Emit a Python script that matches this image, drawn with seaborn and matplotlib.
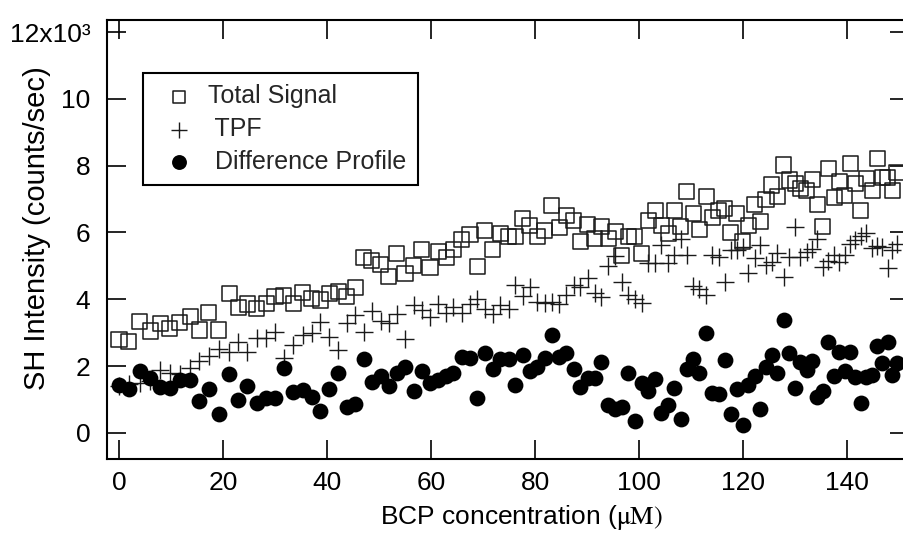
import matplotlib
matplotlib.use("Agg")
import matplotlib.pyplot as plt
import seaborn as sns
from matplotlib.ticker import FixedLocator, FuncFormatter

# BCP concentration (uM)
conc = [0.0, 1.9, 4.0, 6.0, 7.9, 9.8, 11.7, 13.7, 15.4, 17.3,
        19.2, 21.2, 22.9, 24.7, 26.5, 28.3, 30.0, 31.7, 33.5, 35.3,
        37.1, 38.7, 40.4, 42.2, 43.8, 45.4, 47.1, 48.6, 50.3, 51.9,
        53.4, 55.0, 56.7, 58.2, 59.8, 61.4, 62.9, 64.3, 65.9, 67.5,
        68.9, 70.3, 71.9, 73.3, 74.9, 76.2, 77.6, 79.0, 80.4, 81.9,
        83.2, 84.7, 86.0, 87.4, 88.7, 90.1, 91.5, 92.7, 94.1, 95.4,
        96.7, 97.9, 99.2, 100.5, 101.8, 103.1, 104.3, 105.6, 106.8, 108.0,
        109.2, 110.4, 111.6, 112.9, 114.1, 115.3, 116.5, 117.6, 118.8, 119.9,
        121.0, 122.2, 123.3, 124.4, 125.5, 126.6, 127.8, 128.9, 130.0, 131.0,
        132.2, 133.3, 134.3, 135.3, 136.4, 137.5, 138.5, 139.5, 140.6, 141.6,
        142.6, 143.7, 144.8, 145.8, 146.8, 147.8, 148.7, 149.6]

# SH intensity, x10^3 counts/sec
total_signal = [2.81, 2.73, 3.33, 3.05, 3.28, 3.13, 3.30, 3.48, 3.08, 3.61,
                3.08, 4.18, 3.76, 3.86, 3.73, 3.88, 4.08, 4.12, 3.88, 4.20,
                4.03, 3.98, 4.18, 4.23, 4.08, 4.36, 5.26, 5.15, 5.03, 4.68,
                5.36, 4.78, 5.00, 5.50, 4.96, 5.43, 5.26, 5.50, 5.78, 5.95,
                4.98, 6.07, 5.48, 5.98, 5.89, 5.89, 6.42, 6.22, 5.87, 6.07,
                6.82, 6.15, 6.52, 6.35, 5.72, 6.25, 5.83, 6.17, 5.83, 6.02,
                5.30, 5.89, 5.89, 5.38, 6.35, 6.67, 6.22, 5.98, 6.65, 6.17,
                7.22, 6.57, 6.09, 7.09, 6.45, 6.67, 6.72, 5.99, 6.57, 5.72,
                6.22, 6.85, 6.32, 6.99, 7.42, 7.09, 8.02, 7.57, 7.47, 7.32,
                7.27, 7.59, 6.85, 6.19, 7.92, 7.05, 7.52, 7.12, 8.07, 7.47,
                6.67, 7.62, 7.27, 8.22, 7.65, 7.65, 7.27, 7.79]

tpf = [1.40, 1.45, 1.50, 1.55, 1.89, 1.80, 1.77, 1.93, 2.16, 2.30,
       2.50, 2.43, 2.73, 2.43, 2.83, 2.83, 3.03, 2.23, 2.63, 2.93,
       2.98, 3.33, 2.88, 2.48, 3.30, 3.53, 3.03, 3.66, 3.36, 3.30,
       3.56, 2.80, 3.83, 3.68, 3.48, 3.86, 3.60, 3.76, 3.60, 3.86,
       4.00, 3.70, 3.56, 3.83, 3.70, 4.43, 4.10, 4.38, 3.93, 3.90,
       3.93, 3.86, 4.13, 4.43, 4.36, 4.63, 4.20, 4.06, 5.00, 5.30,
       4.53, 4.13, 4.00, 3.90, 5.10, 5.08, 5.63, 5.08, 5.33, 5.80,
       5.33, 4.40, 4.30, 4.13, 5.33, 5.26, 4.53, 5.48, 5.48, 5.56,
       4.80, 5.23, 5.63, 5.03, 5.13, 5.38, 4.66, 5.26, 6.17, 5.26,
       5.43, 5.50, 5.80, 4.98, 5.16, 5.33, 5.13, 5.33, 5.66, 5.78,
       5.88, 5.99, 5.53, 5.60, 5.56, 4.93, 5.48, 5.66]

difference = [1.42, 1.32, 1.86, 1.64, 1.39, 1.34, 1.57, 1.59, 0.97, 1.32,
              0.57, 1.76, 0.99, 1.41, 0.89, 1.04, 1.04, 1.94, 1.24, 1.29,
              1.09, 0.67, 1.31, 1.79, 0.77, 0.87, 2.20, 1.51, 1.71, 1.41,
              1.80, 1.98, 1.27, 1.86, 1.49, 1.59, 1.71, 1.79, 2.27, 2.24,
              1.04, 2.39, 1.90, 2.20, 2.20, 1.44, 2.33, 1.86, 1.96, 2.24,
              2.93, 2.28, 2.40, 1.90, 1.37, 1.64, 1.64, 2.13, 0.84, 0.71,
              0.79, 1.79, 0.37, 1.49, 1.27, 1.61, 0.59, 0.84, 1.34, 0.41,
              1.90, 2.20, 1.80, 3.00, 1.21, 1.17, 2.18, 0.57, 1.31, 0.24,
              1.44, 1.71, 0.71, 1.98, 2.33, 1.79, 3.38, 2.40, 1.34, 2.13,
              1.89, 2.16, 1.09, 1.27, 2.73, 1.71, 2.43, 1.86, 2.43, 1.67,
              0.91, 1.68, 1.74, 2.60, 2.10, 2.73, 1.74, 2.10]

x_ticks = [0, 20, 40, 60, 80, 100, 120, 140]
y_ticks = [0, 2, 4, 6, 8, 10, 12]
series_labels = ["Total Signal", " TPF", " Difference Profile"]

sns.set_theme(style="ticks")
plt.rcParams["font.family"] = ["Liberation Sans", "DejaVu Sans"]
plt.rcParams["mathtext.fontset"] = "stix"

W, H = 904, 541
fig = plt.figure(figsize=(W / 100, H / 100), dpi=100)
fig.patch.set_facecolor("white")
ax_left, ax_right, ax_top, ax_bottom = 107, 909, 20, 459
ax_w, ax_h = ax_right - ax_left, ax_bottom - ax_top
ax = fig.add_axes([ax_left / W, (H - ax_bottom) / H, ax_w / W, ax_h / H])
ax.set_facecolor("white")

sns.scatterplot(x=conc, y=total_signal, marker="s", s=118, facecolors="none",
                edgecolor="#1a1a1a", linewidth=1.1, ax=ax,
                label=series_labels[0], zorder=2)
sns.scatterplot(x=conc, y=tpf, marker="+", s=170, color="#1a1a1a",
                linewidth=1.0, ax=ax, label=series_labels[1], zorder=3)
sns.scatterplot(x=conc, y=difference, marker="o", s=130, color="black",
                edgecolor="black", linewidth=0, ax=ax,
                label=series_labels[2], zorder=4)

ax.set_xlim(-2.3, 151.9)
ax.set_ylim(-0.78, 12.36)
ax.xaxis.set_major_locator(FixedLocator(x_ticks))
ax.yaxis.set_major_locator(FixedLocator(y_ticks))
ax.yaxis.set_major_formatter(FuncFormatter(
    lambda v, p: "12x10\u00b3" if abs(v - 12) < 1e-9 else f"{v:g}"))

for side in ["left", "bottom", "top", "right"]:
    ax.spines[side].set_visible(True)
    ax.spines[side].set_color("black")
    ax.spines[side].set_linewidth(1.5)

ax.tick_params(axis="both", which="major", direction="in", length=14,
               width=1.2, color="black", labelsize=19, labelcolor="black",
               top=True, right=True)
ax.tick_params(axis="y", pad=12)
ax.tick_params(axis="x", pad=9)

ax.set_xlabel("BCP concentration (" + r"$\mathrm{\mu M)}$", fontsize=19,
              color="black")
ax.xaxis.set_label_coords(((388 + 655) / 2 - ax_left) / ax_w,
                          -(518 - ax_bottom) / ax_h)
ax.xaxis.label.set_va("center")
ax.set_ylabel("SH Intensity (counts/sec)", fontsize=21, color="black")
ax.yaxis.set_label_coords(-(107 - 37) / ax_w, (ax_bottom - 228) / ax_h)
ax.yaxis.label.set_va("center")

leg = ax.legend(loc="upper left", bbox_to_anchor=(0.0449, 0.879),
                borderaxespad=0, frameon=True, fancybox=False,
                edgecolor="black", framealpha=1, fontsize=18,
                handletextpad=0.15, labelspacing=0.35, borderpad=0.45,
                handlelength=2.0)
leg.get_frame().set_linewidth(1.5)
for h, sz in zip(leg.legend_handles, [75, 120, 115]):
    h.set_sizes([sz])

fig.savefig("out.png", dpi=100, facecolor="white")
